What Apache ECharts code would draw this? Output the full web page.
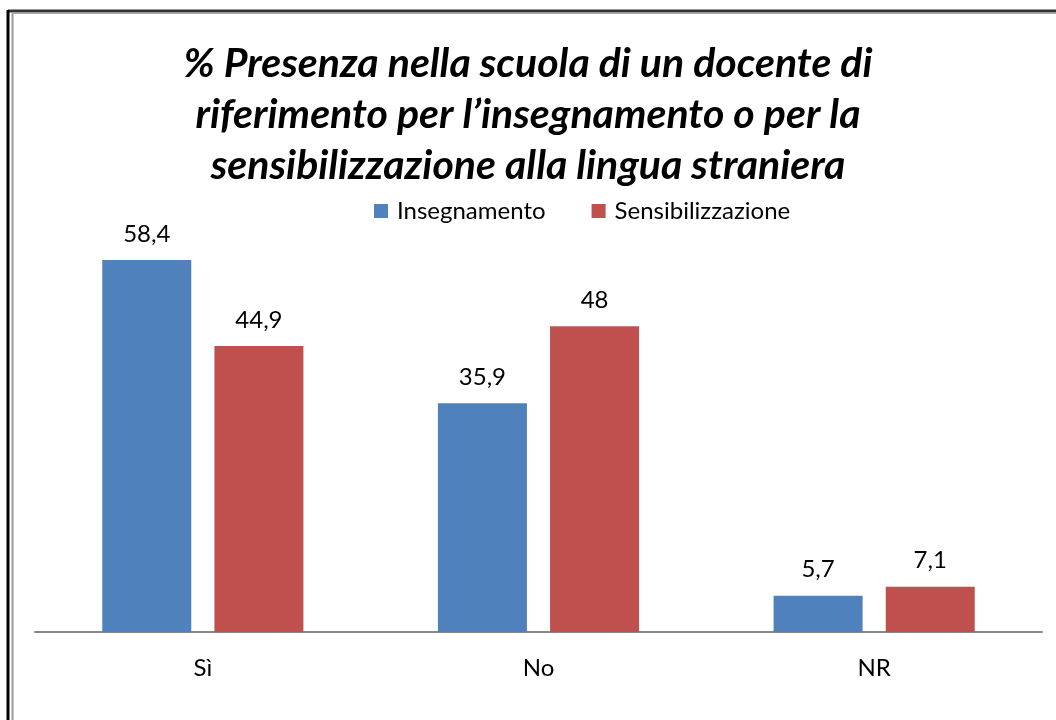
<!DOCTYPE html>
<html><head><meta charset="utf-8">
<script src="https://cdn.jsdelivr.net/npm/echarts@6/dist/echarts.min.js"></script>
<style>
html,body{margin:0;padding:0;background:#fff;}
#c{width:1056px;height:720px;}
</style></head>
<body><div id="c"></div>
<script>
const categories = ['Sì', 'No', 'NR'];
const seriesNames = ['Insegnamento', 'Sensibilizzazione'];
const insegnamento = [58.4, 35.9, 5.7];
const sensibilizzazione = [44.9, 48, 7.1];
const titleLines = ['% Presenza nella scuola di un docente di', 'riferimento per l\u2019insegnamento o per la', 'sensibilizzazione alla lingua straniera'];

const chart = echarts.init(document.getElementById('c'), null, {renderer: 'canvas'});
const fmt = p => String(p.value).replace('.', ',');
const font = 'Lato, "Open Sans", sans-serif';
chart.setOption({
  animation: false,
  title: {
    text: titleLines.join('\n'),
    left: 'center', top: 33,
    textStyle: {fontFamily: font, fontSize: 41, fontWeight: 'bold', fontStyle: 'italic', color: '#000', lineHeight: 51, align: 'center'}
  },
  legend: {
    top: 194, left: 369,
    itemWidth: 14, itemHeight: 14, itemGap: 46,
    icon: 'rect',
    textStyle: {fontFamily: font, fontSize: 24, color: '#000', padding: [0, 0, 0, 4]},
    data: seriesNames
  },
  grid: {left: 35, right: 14, top: 186, bottom: 88},
  xAxis: {
    type: 'category', data: categories,
    axisLine: {lineStyle: {color: '#898989', width: 2}},
    axisTick: {show: false},
    axisLabel: {fontFamily: font, fontSize: 24, color: '#000', margin: 24}
  },
  yAxis: {type: 'value', min: 0, max: 70, show: false, splitLine: {show: false}},
  series: [
    {name: seriesNames[0], type: 'bar', data: insegnamento, barWidth: 89, barGap: '26%',
     itemStyle: {color: '#4F81BD'},
     label: {show: true, position: 'top', distance: 14, formatter: fmt, fontFamily: font, fontSize: 24, color: '#000'}},
    {name: seriesNames[1], type: 'bar', data: sensibilizzazione, barWidth: 89,
     itemStyle: {color: '#C0504D'},
     label: {show: true, position: 'top', distance: 14, formatter: fmt, fontFamily: font, fontSize: 24, color: '#000'}}
  ],
  graphic: [
    {type: 'line', shape: {x1: 8, y1: 11, x2: 1056, y2: 11}, style: {stroke: '#333', lineWidth: 3}, silent: true},
    {type: 'line', shape: {x1: 8, y1: 10, x2: 8, y2: 720}, style: {stroke: '#000', lineWidth: 3}, silent: true},
    {type: 'line', shape: {x1: 12.5, y1: 13, x2: 12.5, y2: 720}, style: {stroke: '#999', lineWidth: 2}, silent: true},
    {type: 'line', shape: {x1: 12, y1: 13.5, x2: 1056, y2: 13.5}, style: {stroke: '#aaa', lineWidth: 1}, silent: true}
  ]
});
</script></body></html>
